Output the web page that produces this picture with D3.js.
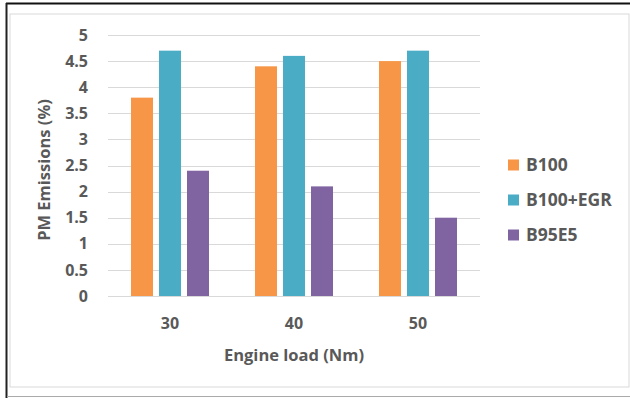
<!DOCTYPE html>
<html><head><meta charset="utf-8">
<script src="https://cdn.jsdelivr.net/npm/d3@7"></script>
<style>
html,body{margin:0;padding:0;background:#fff;}
svg{display:block;}
text{font-family:"Open Sans",Lato,sans-serif;font-weight:bold;fill:#595959;}
</style></head>
<body><svg id="c" width="630" height="398"></svg>
<script>
const categories = ["30", "40", "50"];
const seriesNames = ["B100", "B100+EGR", "B95E5"];
const b100 = [3.8, 4.4, 4.5];
const b100egr = [4.7, 4.6, 4.7];
const b95e5 = [2.4, 2.1, 1.5];
const yTicks = [0, 0.5, 1, 1.5, 2, 2.5, 3, 3.5, 4, 4.5, 5];
const colors = ["#F79646", "#4BACC6", "#8064A2"];
const series = [b100, b100egr, b95e5];

(function(){
const svg = d3.select("#c");
// outer frame
svg.append("rect").attr("x",10).attr("y",14).attr("width",619).attr("height",373)
  .attr("fill","#fff").attr("stroke","#D9D9D9").attr("stroke-width",1);
svg.append("line").attr("x1",6).attr("x2",630).attr("y1",3.5).attr("y2",3.5).attr("stroke","#111").attr("stroke-width",2);
svg.append("line").attr("x1",6.5).attr("x2",6.5).attr("y1",3).attr("y2",398).attr("stroke","#222").attr("stroke-width",2);
svg.append("line").attr("x1",7).attr("x2",630).attr("y1",396.5).attr("y2",396.5).attr("stroke","#AAAAAA").attr("stroke-width",1);

const pLeft = 108, pRight = 480, pTop = 35, pBottom = 296;
const y = d3.scaleLinear().domain([0,5]).range([pBottom, pTop]);
const x0 = d3.scaleBand().domain(categories).range([pLeft, pRight]).paddingInner(0).paddingOuter(0);
const x1 = d3.scaleBand().domain(seriesNames).range([23, 101]).paddingInner(6/28).paddingOuter(0);

// gridlines
svg.append("g").selectAll("line").data(yTicks).join("line")
  .attr("x1",pLeft).attr("x2",pRight)
  .attr("y1",d=>Math.round(y(d))+0.5).attr("y2",d=>Math.round(y(d))+0.5)
  .attr("stroke","#D9D9D9").attr("stroke-width",1);

// y tick labels
svg.append("g").selectAll("text").data(yTicks).join("text")
  .attr("x",88).attr("y",d=>y(d)).attr("dy","0.35em")
  .attr("text-anchor","end").attr("font-size",16).text(d=>d);

// bars
const groups = svg.append("g").selectAll("g").data(categories).join("g")
  .attr("transform",d=>`translate(${x0(d)},0)`);
groups.selectAll("rect").data((d,i)=>seriesNames.map((s,j)=>({s, v:series[j][i], c:colors[j]})))
  .join("rect")
  .attr("x",d=>x1(d.s)).attr("width",x1.bandwidth())
  .attr("y",d=>y(d.v)).attr("height",d=>y(0)-y(d.v))
  .attr("fill",d=>d.c);

// x tick labels
svg.append("g").selectAll("text").data(categories).join("text")
  .attr("x",d=>x0(d)+x0.bandwidth()/2).attr("y",323).attr("dy","0.35em")
  .attr("text-anchor","middle").attr("font-size",16).text(d=>d);

// axis titles
svg.append("text").attr("x",294).attr("y",355).attr("dy","0.35em")
  .attr("text-anchor","middle").attr("font-size",16.5).text("Engine load (Nm)");
svg.append("text").attr("transform","translate(44,170) rotate(-90)").attr("dy","0.35em")
  .attr("text-anchor","middle").attr("font-size",16.5).text("PM Emissions (%)");

// legend
const legY = [165, 200, 235];
const leg = svg.append("g").selectAll("g").data(seriesNames).join("g")
  .attr("transform",(d,i)=>`translate(508,${legY[i]})`);
leg.append("rect").attr("x",0).attr("y",-5.5).attr("width",11).attr("height",11).attr("fill",(d,i)=>colors[i]);
leg.append("text").attr("x",18).attr("y",0).attr("dy","0.35em").attr("font-size",17.5).text(d=>d);
})();
</script></body></html>
